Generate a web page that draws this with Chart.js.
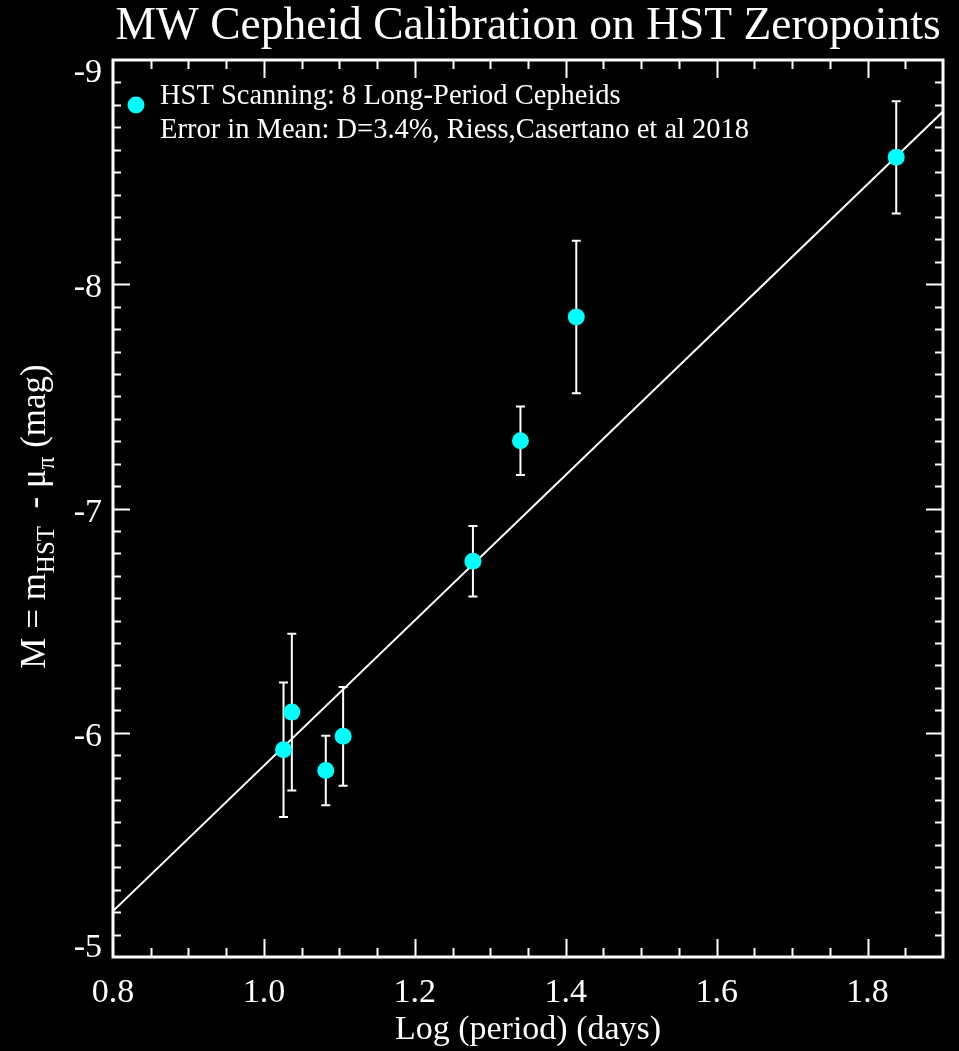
<!DOCTYPE html>
<html lang="en">
<head>
<meta charset="UTF-8">
<title>MW Cepheid Calibration on HST Zeropoints</title>
<script src="https://cdn.jsdelivr.net/npm/chart.js"></script>
<style>
    html, body {
        margin: 0;
        padding: 0;
        background: #000;
    }
    canvas {
        display: block;
    }
</style>
</head>
<body>
<canvas id="plChart" width="959" height="1051"></canvas>
<script>
// log period (days) of the 8 long-period Cepheids
const logPeriod = [1.026, 1.037, 1.082, 1.105, 1.277, 1.340, 1.414, 1.838];
// M = m_HST - mu_pi (mag)
const absMag = [-5.924, -6.092, -5.832, -5.984, -6.765, -7.302, -7.854, -8.566];
// 1-sigma errors on M
const magErr = [0.30, 0.35, 0.155, 0.22, 0.157, 0.153, 0.34, 0.25];
// fitted P-L relation at the two edges of the plot
const fitLogP = [0.8, 1.9];
const fitMag = [-5.205, -8.77];

const xTicks = [0.8, 1.0, 1.2, 1.4, 1.6, 1.8];
const yTicks = [-9, -8, -7, -6, -5];
const legendLines = ['HST Scanning: 8 Long-Period Cepheids',
    'Error in Mean: D=3.4%, Riess,Casertano et al 2018'];

const FONT = "'Liberation Serif', 'Times New Roman', serif";
const CYAN = '#00ffff';

// black page behind everything
const background = {
    id: 'background',
    beforeDraw(chart) {
        const ctx = chart.ctx;
        ctx.save();
        ctx.fillStyle = '#000';
        ctx.fillRect(0, 0, chart.width, chart.height);
        ctx.restore();
    }
};

// vertical error bars with small caps, under the points
const errorBars = {
    id: 'errorBars',
    beforeDatasetsDraw(chart) {
        const ctx = chart.ctx;
        const xs = chart.scales.x, ys = chart.scales.y;
        ctx.save();
        ctx.strokeStyle = '#fff';
        ctx.lineWidth = 2;
        logPeriod.forEach((lp, i) => {
            const px = xs.getPixelForValue(lp);
            const y1 = ys.getPixelForValue(absMag[i] - magErr[i]);
            const y2 = ys.getPixelForValue(absMag[i] + magErr[i]);
            ctx.beginPath();
            ctx.moveTo(px, y1); ctx.lineTo(px, y2);
            ctx.moveTo(px - 4.5, y1); ctx.lineTo(px + 4.5, y1);
            ctx.moveTo(px - 4.5, y2); ctx.lineTo(px + 4.5, y2);
            ctx.stroke();
        });
        ctx.restore();
    }
};

// box around the plot with inward ticks on all four sides
const frame = {
    id: 'frame',
    afterDatasetsDraw(chart) {
        const ctx = chart.ctx;
        const a = chart.chartArea;
        const xs = chart.scales.x, ys = chart.scales.y;
        ctx.save();
        ctx.strokeStyle = '#fff';
        ctx.lineWidth = 2;
        ctx.beginPath();
        // x: minor every 0.05, major every 0.2
        for (let k = 17; k < 38; k++) {
            const v = k * 0.05;
            const px = Math.round(xs.getPixelForValue(v)) + 0.5;
            const len = (k % 4 === 0) ? 18 : 9;
            ctx.moveTo(px, a.bottom); ctx.lineTo(px, a.bottom - len);
            ctx.moveTo(px, a.top); ctx.lineTo(px, a.top + len);
        }
        // y: minor every 0.1, major every 1
        for (let k = -89; k < -50; k++) {
            const v = k / 10;
            const py = Math.round(ys.getPixelForValue(v)) + 0.5;
            const len = (k % 10 === 0) ? 17 : 8;
            ctx.moveTo(a.left, py); ctx.lineTo(a.left + len, py);
            ctx.moveTo(a.right, py); ctx.lineTo(a.right - len, py);
        }
        ctx.stroke();
        ctx.lineWidth = 3;
        ctx.strokeRect(a.left, a.top, a.right - a.left, a.bottom - a.top);

        // y labels: the end ones are pulled inside the axis range
        ctx.fillStyle = '#fff';
        ctx.font = '34px ' + FONT;
        ctx.textAlign = 'right';
        ctx.textBaseline = 'alphabetic';
        yTicks.forEach((v, i) => {
            const py = ys.getPixelForValue(v);
            let dy = 13;
            if (i === 0) dy = 22;
            if (i === yTicks.length - 1) dy = 0;
            ctx.fillText(String(v), a.left - 11, py + dy);
        });
        ctx.restore();
    }
};

// legend: one cyan marker, two lines of text
const legendBox = {
    id: 'legendBox',
    afterDraw(chart) {
        const ctx = chart.ctx;
        const a = chart.chartArea;
        ctx.save();
        ctx.fillStyle = CYAN;
        ctx.beginPath();
        ctx.arc(a.left + 23, a.top + 45, 8.5, 0, Math.PI * 2);
        ctx.fill();
        ctx.fillStyle = '#fff';
        ctx.font = '28.5px ' + FONT;
        ctx.textBaseline = 'alphabetic';
        ctx.textAlign = 'left';
        ctx.fillText(legendLines[0], a.left + 47, a.top + 44);
        ctx.fillText(legendLines[1], a.left + 47, a.top + 78);
        ctx.restore();
    }
};

// rotated y title with subscripts
const yTitle = {
    id: 'yTitle',
    afterDraw(chart) {
        const ctx = chart.ctx;
        const a = chart.chartArea;
        const parts = [
            ['M = m', false], ['HST', true], ['  - \u03bc', false], ['\u03c0', true], [' (mag)', false]
        ];
        const big = '35px ' + FONT, small = '25px ' + FONT;
        ctx.save();
        let total = 0;
        parts.forEach(p => {
            ctx.font = p[1] ? small : big;
            total += ctx.measureText(p[0]).width;
        });
        ctx.translate(45, (a.top + a.bottom) / 2 + 8);
        ctx.rotate(-Math.PI / 2);
        ctx.fillStyle = '#fff';
        ctx.textBaseline = 'alphabetic';
        let x = -total / 2;
        parts.forEach(p => {
            ctx.font = p[1] ? small : big;
            ctx.fillText(p[0], x, p[1] ? 9 : 0);
            x += ctx.measureText(p[0]).width;
        });
        ctx.restore();
    }
};

const ctx = document.getElementById('plChart').getContext('2d');
new Chart(ctx, {
    type: 'scatter',
    data: {
        datasets: [
            {
                label: 'HST Scanning: 8 Long-Period Cepheids',
                data: logPeriod.map((x, i) => ({ x: x, y: absMag[i] })),
                backgroundColor: CYAN,
                borderWidth: 0,
                pointRadius: 8.5,
                pointHoverRadius: 8.5,
                order: 0
            },
            {
                type: 'line',
                label: 'fit',
                data: fitLogP.map((x, i) => ({ x: x, y: fitMag[i] })),
                borderColor: '#fff',
                borderWidth: 2,
                pointRadius: 0,
                fill: false,
                order: 1
            }
        ]
    },
    options: {
        responsive: false,
        animation: false,
        layout: {
            padding: { left: 0, right: 16, top: 0, bottom: 0 }
        },
        plugins: {
            legend: { display: false },
            tooltip: { enabled: false },
            title: {
                display: true,
                text: 'MW Cepheid Calibration on HST Zeropoints',
                color: '#fff',
                fullSize: false,
                font: { family: FONT, size: 45.5, weight: 'normal', lineHeight: 1.2 },
                padding: { top: 0, bottom: 5.4 }
            }
        },
        scales: {
            x: {
                type: 'linear',
                min: 0.8,
                max: 1.9,
                afterBuildTicks: s => { s.ticks = xTicks.map(v => ({ value: v })); },
                afterFit: s => { s.height = 94; },
                grid: { display: false },
                border: { display: false },
                ticks: {
                    color: '#fff',
                    font: { family: FONT, size: 34 },
                    padding: 8,
                    maxRotation: 0,
                    callback: v => v.toFixed(1)
                },
                title: {
                    display: true,
                    text: 'Log (period) (days)',
                    color: '#fff',
                    font: { family: FONT, size: 34 },
                    padding: { top: 0, bottom: 1 }
                }
            },
            y: {
                type: 'linear',
                min: -9,
                max: -5,
                reverse: true,
                afterBuildTicks: s => { s.ticks = yTicks.map(v => ({ value: v })); },
                afterFit: s => { s.width = 113; },
                grid: { display: false },
                border: { display: false },
                ticks: { display: false }
            }
        }
    },
    plugins: [background, errorBars, frame, legendBox, yTitle]
});
</script>
</body>
</html>
